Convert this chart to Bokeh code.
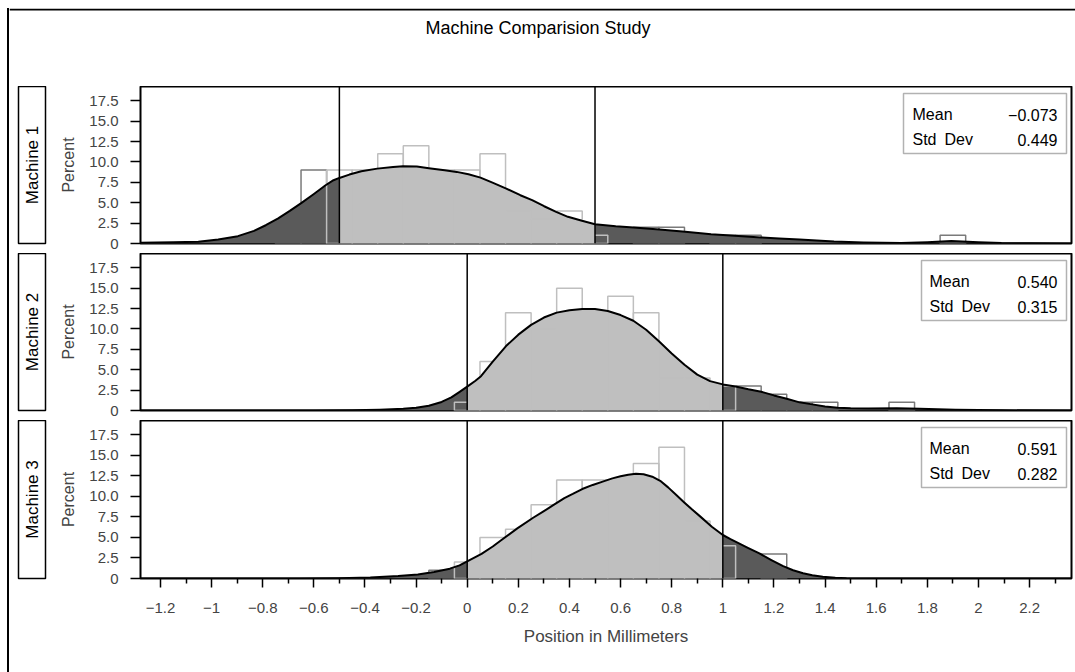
import numpy as np
from bokeh.plotting import figure
from bokeh.layouts import column, row
from bokeh.models import Range1d, Span, FixedTicker, BoxAnnotation, Label, Spacer
from bokeh.embed import file_html
from bokeh.resources import INLINE
from bokeh.core.properties import value

FONT = "Liberation Sans"

# ---------------- data ----------------
title_text = "Machine Comparision Study"
machines = ["Machine 1", "Machine 2", "Machine 3"]
lsl = [-0.5, 0.0, 0.0]
usl = [0.5, 1.0, 1.0]
means = ["\u22120.073", "0.540", "0.591"]
stds = ["0.449", "0.315", "0.282"]
stat_names = ["Mean", "Std\u2002Dev"]

bin_mid = [-0.7, -0.6, -0.5, -0.4, -0.3, -0.2, -0.1, 0.0, 0.1, 0.2, 0.3, 0.4, 0.5, 0.6,
           0.7, 0.8, 0.9, 1.0, 1.1, 1.2, 1.3, 1.4, 1.5, 1.6, 1.7, 1.8, 1.9]
m1_pct = [2, 9, 9, 9, 11, 12, 9, 9, 11, 4, 3, 4, 1, 0, 2, 2, 0, 1, 1, 0, 0, 0, 0, 0, 0, 0, 1]
m2_pct = [0, 0, 0, 0, 0, 0, 0, 1, 6, 12, 10, 15, 11, 14, 12, 4, 4, 3, 3, 2, 1, 1, 0, 0, 1, 0, 0]
m3_pct = [0, 0, 0, 0, 0, 0, 1, 2, 5, 6, 9, 12, 12, 9, 14, 16, 7, 4, 0, 3, 0, 0, 0, 0, 0, 0, 0]

m1_kx = [-1.278, -1.15, -1.052, -0.974, -0.897, -0.834, -0.788, -0.741, -0.694, -0.648,
         -0.601, -0.554, -0.523, -0.5, -0.461, -0.414, -0.352, -0.29, -0.251, -0.197, -0.15,
         -0.088, -0.041, 0.005, 0.052, 0.099, 0.153, 0.208, 0.254, 0.301, 0.348, 0.394, 0.449,
         0.5, 0.581, 0.651, 0.752, 0.853, 0.914, 0.954, 1.047, 1.149, 1.22, 1.3, 1.435, 1.55,
         1.698, 1.8, 1.894, 2.0, 2.09, 2.2, 2.364]
m1_ky = [0.08, 0.14, 0.22, 0.49, 0.9, 1.55, 2.24, 3.06, 4.0, 4.98,
         6.04, 7.14, 7.76, 8.04, 8.45, 8.86, 9.18, 9.39, 9.47, 9.43, 9.22,
         8.98, 8.78, 8.49, 8.08, 7.47, 6.73, 5.92, 5.31, 4.57, 3.88, 3.27, 2.78,
         2.37, 2.12, 1.96, 1.71, 1.43, 1.27, 1.14, 0.95, 0.75, 0.62, 0.5, 0.25, 0.12,
         0.05, 0.15, 0.3, 0.15, 0.05, 0.02, 0.0]
m2_kx = [-1.278, -0.6, -0.45, -0.342, -0.25, -0.2, -0.15, -0.1, -0.062, -0.031, 0.0, 0.031,
         0.054, 0.1, 0.152, 0.2, 0.25, 0.3, 0.35, 0.4, 0.45, 0.5, 0.55, 0.6, 0.65, 0.7, 0.75,
         0.8, 0.85, 0.9, 0.95, 1.0, 1.05, 1.1, 1.15, 1.2, 1.25, 1.3, 1.35, 1.4, 1.45, 1.5,
         1.57, 1.68, 1.77, 1.91, 2.09, 2.364]
m2_ky = [0.0, 0.0, 0.03, 0.1, 0.2, 0.35, 0.58, 1.05, 1.6, 2.26, 2.92, 3.62,
         4.2, 6.0, 7.9, 9.3, 10.5, 11.4, 12.0, 12.3, 12.45, 12.45, 12.2, 11.7, 11.0, 9.9, 8.5,
         7.0, 5.6, 4.4, 3.6, 3.2, 2.95, 2.6, 2.3, 1.85, 1.45, 1.0, 0.75, 0.5, 0.35, 0.28,
         0.25, 0.29, 0.2, 0.08, 0.02, 0.0]
m3_kx = [-1.278, -0.658, -0.503, -0.379, -0.27, -0.193, -0.13, -0.068, -0.03, 0.0, 0.056,
         0.1, 0.134, 0.196, 0.258, 0.3, 0.335, 0.38, 0.413, 0.45, 0.491, 0.53, 0.568, 0.6,
         0.63, 0.66, 0.69, 0.724, 0.755, 0.786, 0.817, 0.848, 0.88, 0.91, 0.957, 1.0, 1.03,
         1.065, 1.1, 1.143, 1.19, 1.236, 1.275, 1.314, 1.35, 1.391, 1.44, 1.484, 1.6, 2.364]
m3_ky = [0.0, 0.0, 0.04, 0.12, 0.29, 0.49, 0.8, 1.2, 1.6, 2.1, 3.0,
         3.9, 4.7, 6.1, 7.4, 8.2, 8.9, 9.8, 10.3, 10.9, 11.4, 11.8, 12.2, 12.45,
         12.65, 12.75, 12.7, 12.4, 11.9, 11.1, 10.2, 9.3, 8.4, 7.6, 6.3, 5.3, 4.8,
         4.25, 3.7, 3.05, 2.25, 1.5, 1.0, 0.65, 0.4, 0.2, 0.08, 0.03, 0.0, 0.0]

x_ticks = [-1.2, -1.0, -0.8, -0.6, -0.4, -0.2, 0.0, 0.2, 0.4, 0.6, 0.8, 1.0, 1.2, 1.4, 1.6,
           1.8, 2.0, 2.2]
x_tick_labels = ["\u22121.2", "\u22121", "\u22120.8", "\u22120.6", "\u22120.4", "\u22120.2",
                 "0", "0.2", "0.4", "0.6", "0.8", "1", "1.2", "1.4", "1.6", "1.8", "2", "2.2"]
x_minor = [-1.1, -0.9, -0.7, -0.5, -0.3, -0.1, 0.1, 0.3, 0.5, 0.7, 0.9, 1.1, 1.3, 1.5, 1.7,
           1.9, 2.1, 2.3]
y_ticks = [0, 2.5, 5, 7.5, 10, 12.5, 15, 17.5]
y_tick_labels = ["0", "2.5", "5.0", "7.5", "10.0", "12.5", "15.0", "17.5"]
x_label = "Position in Millimeters"
y_label = "Percent"

curves = [(m1_kx, m1_ky), (m2_kx, m2_ky), (m3_kx, m3_ky)]
pcts = [m1_pct, m2_pct, m3_pct]

# ---------------- styles ----------------
LIGHT_FILL = "#bfbfbf"
DARK_FILL = "#5a5a5a"
LIGHT_BAR = "#bfbfbf"
DARK_BAR = "#7a7a7a"
XMIN, XMAX = -1.278, 2.364
YMIN, YMAX = 0, 19.25
FRAME_W = 931
FRAME_H = [157, 157, 158]
TOP_B = [0, 0, 0]
BOT_B = [10, 10, 83]


def px_x(px):
    return XMIN + (px - 140) * (XMAX - XMIN) / FRAME_W


def px_y(off, fh):
    return YMAX - off * (YMAX - YMIN) / fh


def make_label_fig(i):
    f = figure(frame_width=27, frame_height=FRAME_H[i], min_border_left=8, min_border_right=5,
               min_border_top=TOP_B[i], min_border_bottom=BOT_B[i],
               x_range=Range1d(0, 1), y_range=Range1d(0, 1),
               output_backend="svg", toolbar_location=None,
               x_axis_location=None, y_axis_location=None)
    f.grid.visible = False
    f.outline_line_color = "black"
    f.outline_line_width = 1.5
    f.text(x=[0.5], y=[0.5], text=[machines[i]], angle=np.pi / 2,
           text_font=value(FONT), text_font_size="17px", text_align="center",
           text_baseline="middle", text_color="black")
    return f


def make_panel(i):
    show_x = (i == 2)
    fh = FRAME_H[i]
    p = figure(frame_width=FRAME_W, frame_height=fh, min_border_left=90, min_border_right=4,
               min_border_top=TOP_B[i], min_border_bottom=BOT_B[i],
               x_range=Range1d(XMIN, XMAX), y_range=Range1d(YMIN, YMAX),
               output_backend="svg", toolbar_location=None,
               x_axis_location="below" if show_x else None)
    p.grid.visible = False
    p.outline_line_color = "black"
    p.outline_line_width = 2

    ya = p.yaxis[0]
    ya.ticker = FixedTicker(ticks=y_ticks)
    ya.major_label_overrides = {t: s for t, s in zip(y_ticks, y_tick_labels)}
    ya.axis_label = y_label
    ya.axis_label_text_font = FONT
    ya.axis_label_text_font_size = "16px"
    ya.axis_label_text_font_style = "normal"
    ya.axis_label_standoff = 9
    ya.major_label_text_font = FONT
    ya.major_label_text_font_size = "15px"
    ya.major_label_standoff = 12
    ya.major_tick_out = 10
    ya.major_tick_in = 0
    ya.minor_tick_out = 0
    ya.minor_tick_in = 0
    ya.major_tick_line_width = 1.5
    ya.axis_line_color = None

    if show_x:
        xa = p.xaxis[0]
        xa.ticker = FixedTicker(ticks=x_ticks, minor_ticks=x_minor)
        xa.major_label_overrides = {t: s for t, s in zip(x_ticks, x_tick_labels)}
        xa.axis_label = x_label
        xa.axis_label_text_font = FONT
        xa.axis_label_text_font_size = "17px"
        xa.axis_label_text_font_style = "normal"
        xa.axis_label_standoff = 11
        xa.major_label_text_font = FONT
        xa.major_label_text_font_size = "15px"
        xa.major_label_standoff = 15
        xa.major_tick_out = 9
        xa.major_tick_in = 0
        xa.minor_tick_out = 5
        xa.minor_tick_in = 0
        xa.major_tick_line_width = 1.5
        xa.minor_tick_line_width = 1.5
        xa.axis_line_color = None

    lo, hi = lsl[i], usl[i]
    mids = np.array(bin_mid)
    h = np.array(pcts[i], dtype=float)
    inside = (mids >= lo - 1e-9) & (mids <= hi + 1e-9)
    nz = h > 0
    dmask = nz & ~inside
    lmask = nz & inside

    # dark-outlined bars (outside spec) sit below the fill
    p.quad(left=mids[dmask] - 0.05, right=mids[dmask] + 0.05, bottom=0, top=h[dmask],
           fill_color=None, line_color=DARK_BAR, line_width=1.5)

    kx = np.array(curves[i][0])
    ky = np.array(curves[i][1])
    m_left = kx <= lo + 1e-9
    m_mid = (kx >= lo - 1e-9) & (kx <= hi + 1e-9)
    m_right = kx >= hi - 1e-9
    p.varea(x=kx[m_left], y1=0, y2=ky[m_left], fill_color=DARK_FILL)
    p.varea(x=kx[m_mid], y1=0, y2=ky[m_mid], fill_color=LIGHT_FILL)
    p.varea(x=kx[m_right], y1=0, y2=ky[m_right], fill_color=DARK_FILL)

    # light-outlined bars (inside spec) on top of the fill
    p.quad(left=mids[lmask] - 0.05, right=mids[lmask] + 0.05, bottom=0, top=h[lmask],
           fill_color=None, line_color=LIGHT_BAR, line_width=1.5)

    p.line(kx, ky, line_color="black", line_width=2, line_join="round")

    for loc in (lo, hi):
        p.add_layout(Span(location=loc, dimension="height", line_color="black", line_width=1.5))

    # inset statistics box
    box_left = 903 if i == 0 else 921
    txt_left = 912 if i == 0 else 929
    p.add_layout(BoxAnnotation(left=px_x(box_left), right=px_x(1066),
                               top=px_y(7, fh), bottom=px_y(67, fh),
                               fill_color="white", fill_alpha=1.0,
                               line_color="black", line_width=1.5))
    for lab, val, off in ((stat_names[0], means[i], 28), (stat_names[1], stds[i], 53)):
        p.add_layout(Label(x=px_x(txt_left), y=px_y(off, fh), text=lab, text_font=FONT,
                           text_font_size="16px", text_align="left", text_baseline="middle",
                           text_color="black"))
        p.add_layout(Label(x=px_x(1057), y=px_y(off, fh), text=val, text_font=FONT,
                           text_font_size="16px", text_align="right", text_baseline="middle",
                           text_color="black"))
    return p


# title figure (its top edge carries the outer frame's top rule)
t = figure(frame_width=1066, frame_height=78, min_border=0, min_border_left=0,
           min_border_right=0, min_border_top=0, min_border_bottom=0,
           x_range=Range1d(0, 1066), y_range=Range1d(78, 0),
           output_backend="svg", toolbar_location=None,
           x_axis_location=None, y_axis_location=None)
t.grid.visible = False
t.outline_line_color = None
t.add_layout(Span(location=1, dimension="width", line_color="black", line_width=2))
t.text(x=[528.5], y=[19], text=[title_text], text_font=value(FONT), text_font_size="18px",
       text_align="center", text_baseline="middle", text_color="black")

rows = [row(Spacer(width=1, height=10), make_label_fig(i), make_panel(i), spacing=0)
        for i in range(3)]
inner = column(t, *rows, spacing=0)
page = column(Spacer(width=1075, height=8),
              row(Spacer(width=7, height=10), Spacer(width=2, height=664,
                  styles={"background-color": "black"}), inner, spacing=0), spacing=0)

open("out.html", "w").write(file_html(page, INLINE))
